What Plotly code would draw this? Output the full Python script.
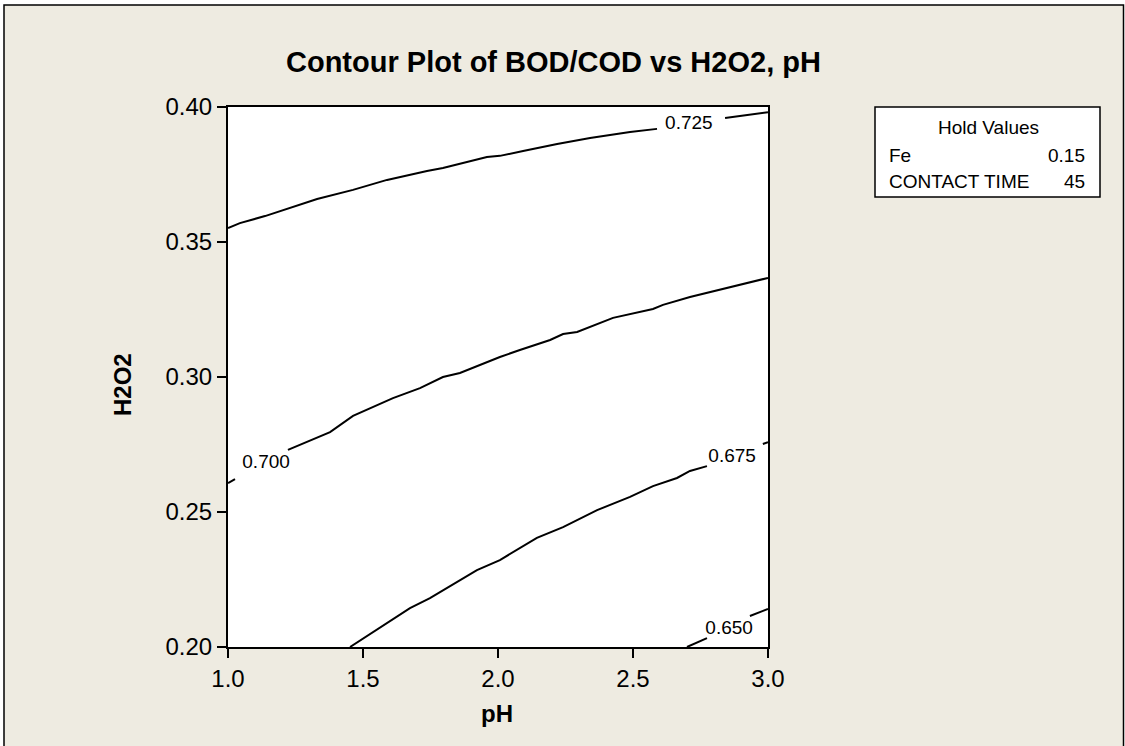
import plotly.graph_objects as go

# ---------------- data ----------------
ph_725 = [1.000, 1.044, 1.137, 1.230, 1.330, 1.463, 1.589, 1.737, 1.796, 1.959, 2.007,
          2.093, 2.219, 2.341, 2.489, 2.589, None, 2.841, 3.000]
h2o2_725 = [0.3552, 0.3570, 0.3596, 0.3626, 0.3659, 0.3693, 0.3730, 0.3763, 0.3774, 0.3815,
            0.3819, 0.3837, 0.3863, 0.3885, 0.3907, 0.3919, None, 0.3959, 0.3981]

ph_700 = [1.000, 1.026, None, 1.222, 1.378, 1.463, 1.611, 1.711, 1.796, 1.859, 2.007, 2.081,
          2.144, 2.193, 2.241, 2.293, 2.426, 2.574, 2.611, 2.711, 3.000]
h2o2_700 = [0.2607, 0.2622, None, 0.2730, 0.2796, 0.2856, 0.2922, 0.2959, 0.3000, 0.3015,
            0.3074, 0.3100, 0.3122, 0.3137, 0.3159, 0.3167, 0.3219, 0.3252, 0.3267, 0.3296,
            0.3367]

ph_675 = [1.452, 1.674, 1.748, 1.859, 1.922, 2.007, 2.144, 2.241, 2.367, 2.489, 2.574, 2.663,
          2.711, 2.774, None, 2.981, 3.000]
h2o2_675 = [0.2000, 0.2144, 0.2181, 0.2248, 0.2285, 0.2322, 0.2404, 0.2444, 0.2507, 0.2556,
            0.2596, 0.2626, 0.2652, 0.2670, None, 0.2752, 0.2759]

ph_650 = [2.700, 2.774, None, 2.933, 3.000]
h2o2_650 = [0.2000, 0.2033, None, 0.2115, 0.2141]

contour_levels = ["0.725", "0.700", "0.675", "0.650"]
label_ph = [2.707, 1.141, 2.867, 2.856]
label_h2o2 = [0.3937, 0.2681, 0.2704, 0.2067]

x_ticks = [1.0, 1.5, 2.0, 2.5, 3.0]
x_ticklabels = ["1.0", "1.5", "2.0", "2.5", "3.0"]
y_ticks = [0.20, 0.25, 0.30, 0.35, 0.40]
y_ticklabels = ["0.20", "0.25", "0.30", "0.35", "0.40"]

hold_names = ["Fe", "CONTACT TIME"]
hold_values = ["0.15", "45"]

# ---------------- layout geometry ----------------
W, H = 1125, 746
L, R, T, B = 228, 768, 107, 647
PW, PH = R - L, B - T
FONT = "Liberation Sans, Arial, sans-serif"
BEIGE = "#EEEBE1"


def px(xp):
    return (xp - L) / PW


def py(yp):
    return (B - yp) / PH


fig = go.Figure()
for xs, ys in [(ph_725, h2o2_725), (ph_700, h2o2_700), (ph_675, h2o2_675), (ph_650, h2o2_650)]:
    fig.add_trace(go.Scatter(x=xs, y=ys, mode="lines", line=dict(color="black", width=2),
                             connectgaps=False, showlegend=False, hoverinfo="skip"))

fig.add_trace(go.Scatter(x=label_ph, y=label_h2o2, mode="text", text=contour_levels,
                         textfont=dict(family=FONT, size=19, color="black"),
                         showlegend=False, hoverinfo="skip"))

shapes = [
    # outer beige frame
    dict(type="rect", xref="paper", yref="paper", x0=px(4), x1=px(1123.5), y0=py(760), y1=py(5),
         fillcolor=BEIGE, line=dict(color="black", width=1.5), layer="below"),
    # white plot area
    dict(type="rect", xref="paper", yref="paper", x0=0, x1=1, y0=0, y1=1,
         fillcolor="white", line=dict(width=0), layer="below"),
    # hold values box
    dict(type="rect", xref="paper", yref="paper", x0=px(875), x1=px(1100), y0=py(197), y1=py(107),
         fillcolor="white", line=dict(color="black", width=1.5), layer="below"),
]

annotations = [
    dict(text="<b>Contour Plot of BOD/COD vs H2O2, pH</b>", x=px(553), y=py(62),
         xref="paper", yref="paper", showarrow=False, xanchor="center", yanchor="middle",
         font=dict(family=FONT, size=29, color="black")),
    dict(text="<b>pH</b>", x=px(497), y=py(713), xref="paper", yref="paper", showarrow=False,
         xanchor="center", yanchor="middle", font=dict(family=FONT, size=24, color="black")),
    dict(text="<b>H2O2</b>", x=px(122), y=py(385), xref="paper", yref="paper", showarrow=False,
         xanchor="center", yanchor="middle", textangle=-90,
         font=dict(family=FONT, size=24, color="black")),
    dict(text="Hold Values", x=px(988), y=py(127), xref="paper", yref="paper", showarrow=False,
         xanchor="center", yanchor="middle", font=dict(family=FONT, size=19, color="black")),
]
rows_y = [155, 182]
for name, val, yy in zip(hold_names, hold_values, rows_y):
    annotations.append(dict(text=name, x=px(887), y=py(yy), xref="paper", yref="paper",
                            showarrow=False, xanchor="left", yanchor="middle",
                            font=dict(family=FONT, size=19, color="black")))
    annotations.append(dict(text=val, x=px(1087), y=py(yy), xref="paper", yref="paper",
                            showarrow=False, xanchor="right", yanchor="middle",
                            font=dict(family=FONT, size=19, color="black")))

axis_common = dict(showgrid=False, zeroline=False, showline=True, linecolor="black", linewidth=2,
                   mirror=True, ticks="outside", ticklen=9, tickwidth=2, tickcolor="black",
                   tickfont=dict(family=FONT, size=24, color="black"))

fig.update_layout(
    width=W, height=H,
    margin=dict(l=L, r=W - R, t=T, b=H - B, autoexpand=False),
    paper_bgcolor="white", plot_bgcolor="white",
    shapes=shapes, annotations=annotations, showlegend=False,
    xaxis=dict(range=[1.0, 3.0], tickvals=x_ticks, ticktext=x_ticklabels, **axis_common),
    yaxis=dict(range=[0.20, 0.40], tickvals=y_ticks, ticktext=y_ticklabels, **axis_common),
)

fig.write_html("out.html")
